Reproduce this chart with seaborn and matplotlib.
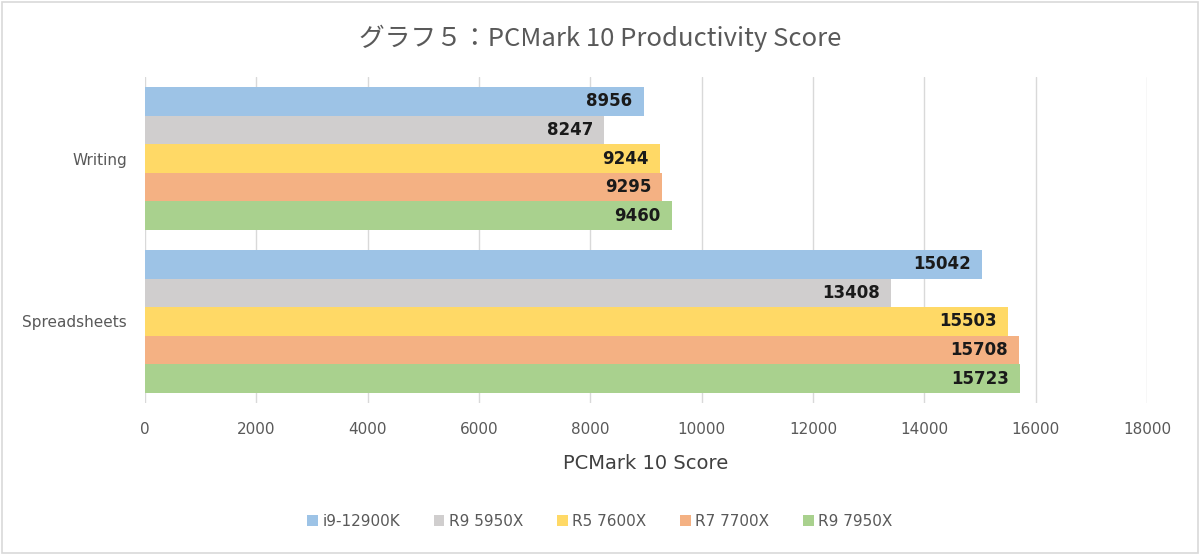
import matplotlib
matplotlib.use("Agg")
import matplotlib.pyplot as plt
import seaborn as sns
import pandas as pd

# data
tests = ["Writing", "Spreadsheets"]
cpus = ["i9-12900K", "R9 5950X", "R5 7600X", "R7 7700X", "R9 7950X"]
writing = [8956, 8247, 9244, 9295, 9460]
spreadsheets = [15042, 13408, 15503, 15708, 15723]
colors = ["#9DC3E6", "#D0CECE", "#FFD966", "#F4B183", "#A9D18E"]
xticks = [0, 2000, 4000, 6000, 8000, 10000, 12000, 14000, 16000, 18000]

rows = []
for c, w, s in zip(cpus, writing, spreadsheets):
    rows.append({"test": "Writing", "cpu": c, "score": w})
    rows.append({"test": "Spreadsheets", "cpu": c, "score": s})
df = pd.DataFrame(rows)

sns.set_style("white")
plt.rcParams['font.family'] = 'DejaVu Sans'

fig = plt.figure(figsize=(12, 5.55), dpi=100)
ax = fig.add_axes([145/1200, 1-403/555, 1002/1200, 326/555])

sns.barplot(data=df, y="test", x="score", hue="cpu", order=tests,
            hue_order=cpus, palette=colors, orient="h", width=0.877,
            saturation=1, linewidth=0, ax=ax, legend=True)

ax.set_xlim(0, 18000)
ax.set_ylim(1.5, -0.5)
ax.set_xticks(xticks)
ax.set_xticklabels([str(t) for t in xticks], color="#595959", fontsize=11)
ax.tick_params(axis="x", length=0, pad=14)
ax.tick_params(axis="y", length=0, pad=13, labelsize=11, labelcolor="#595959")
ax.grid(axis="x", color="#D9D9D9", lw=1)
ax.set_axisbelow(True)
for sp in ax.spines.values():
    sp.set_visible(False)
ax.set_ylabel("")
ax.set_xlabel("PCMark 10 Score", fontsize=14, color="#404040", labelpad=12)

# value labels inside the bar ends
for cont in ax.containers:
    for bar in cont:
        w = bar.get_width()
        ax.annotate(f"{int(round(w))}", (w, bar.get_y() + bar.get_height()/2),
                    xytext=(-8, 0), textcoords="offset points",
                    ha="right", va="center", fontsize=12, fontweight="bold",
                    color="#1a1a1a")

ax.legend(loc="center", bbox_to_anchor=(0.5, 1-521/555), bbox_transform=fig.transFigure,
          ncol=5, frameon=False, fontsize=11, handlelength=0.7, handleheight=0.7,
          handletextpad=0.3, columnspacing=2.2, labelcolor="#595959")

fig.text(0.5, 1-38/555, "グラフ５：PCMark 10 Productivity Score", ha="center", va="center",
         fontsize=18.5, color="#595959", family=["Noto Sans CJK JP", "DejaVu Sans"])

# light frame around the whole chart
fig.patches.append(plt.Rectangle((0.002, 0.003), 0.996, 0.994, transform=fig.transFigure,
                                 fill=False, edgecolor="#D9D9D9", lw=1.2))

fig.savefig("out.png", dpi=100, facecolor="white")
